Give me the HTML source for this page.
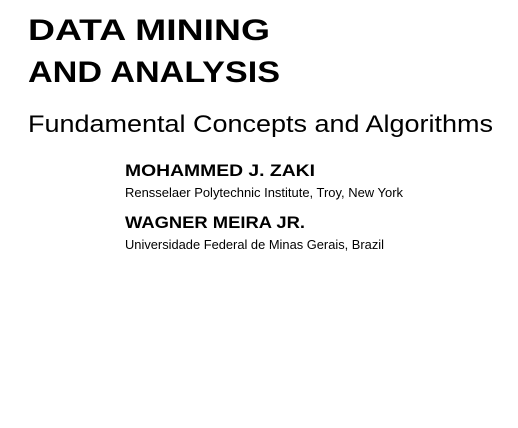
<!DOCTYPE html>
<html><head><meta charset="utf-8"><style>
html,body{margin:0;padding:0;background:#fff;width:518px;height:428px;overflow:hidden}
svg{display:block}
text{font-family:"Liberation Sans",sans-serif;fill:#000}
</style></head><body>
<svg width="518" height="428" viewBox="0 0 518 428">
<text x="28" y="40" font-size="30" font-weight="bold" textLength="242" lengthAdjust="spacingAndGlyphs">DATA MINING</text>
<text x="28" y="82" font-size="30" font-weight="bold" textLength="252" lengthAdjust="spacingAndGlyphs">AND ANALYSIS</text>
<text x="28" y="132" font-size="24" textLength="465" lengthAdjust="spacingAndGlyphs">Fundamental Concepts and Algorithms</text>
<text x="125" y="176" font-size="17" font-weight="bold" textLength="190" lengthAdjust="spacingAndGlyphs">MOHAMMED J. ZAKI</text>
<text x="125" y="197" font-size="13" textLength="278" lengthAdjust="spacingAndGlyphs">Rensselaer Polytechnic Institute, Troy, New York</text>
<text x="125" y="228" font-size="17" font-weight="bold" textLength="180" lengthAdjust="spacingAndGlyphs">WAGNER MEIRA JR.</text>
<text x="125" y="249" font-size="13" textLength="259" lengthAdjust="spacingAndGlyphs">Universidade Federal de Minas Gerais, Brazil</text>
</svg>
</body></html>
